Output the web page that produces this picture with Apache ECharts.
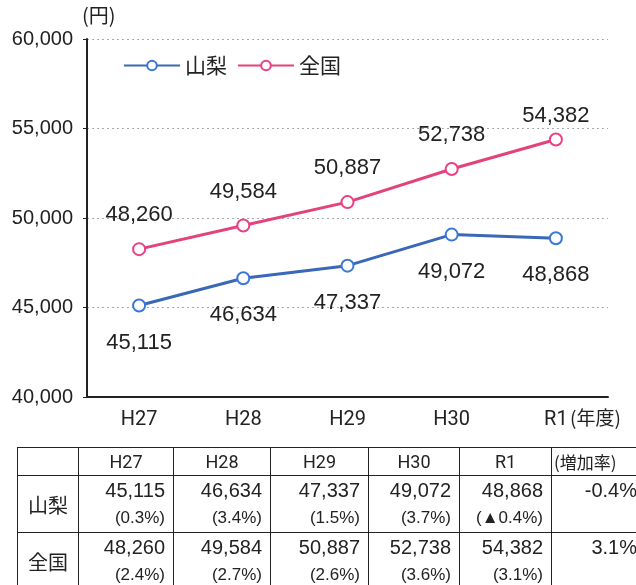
<!DOCTYPE html>
<html>
<head>
<meta charset="utf-8">
<script src="https://cdn.jsdelivr.net/npm/echarts@6/dist/echarts.min.js"></script>
<style>
  body { margin: 0; background: #fff; }
  #wrap { position: relative; width: 636px; height: 585px; overflow: hidden; }
  #chart { position: absolute; left: 0; top: 0; width: 636px; height: 585px; }
  #tbl { position: absolute; left: 17px; top: 447px; width: 628px; border-collapse: collapse; table-layout: fixed;
         font-family: "Liberation Sans", Arial, sans-serif; color: #222; }
  #tbl td { border: 1.5px solid #222; padding: 0; }
  #tbl .hd { height: 27px; text-align: center; font-family: Roboto, sans-serif; font-size: 18px; }
  #tbl .rl { text-align: center; font-family: "Noto Sans CJK JP", sans-serif; font-size: 20px; }
  #tbl .v { height: 56px; text-align: right; padding-right: 8px; vertical-align: top; }
  #tbl .v div.n { font-size: 20px; line-height: 28px; }
  #tbl .v div.p { font-size: 17px; line-height: 28px; }
</style>
</head>
<body>
<div id="wrap">
  <div id="chart"></div>
  <table id="tbl"></table>
</div>
<script>
// 1人当たり費用額（円）
const categories = ['H27', 'H28', 'H29', 'H30', 'R1'];
const yamanashi = [45115, 46634, 47337, 49072, 48868];
const zenkoku = [48260, 49584, 50887, 52738, 54382];
const yamanashiRate = ['(0.3%)', '(3.4%)', '(1.5%)', '(3.7%)', '(▲0.4%)'];
const zenkokuRate = ['(2.4%)', '(2.7%)', '(2.6%)', '(3.6%)', '(3.1%)'];
const growth = ['-0.4%', '3.1%'];
const yMin = 40000, yMax = 60000, yStep = 5000;

const fmt = v => v.toLocaleString('en-US');

const myChart = echarts.init(document.getElementById('chart'));
myChart.setOption({
    animation: false,
    grid: { left: 87, right: 28, top: 39, bottom: 188 },
    legend: {
        left: 118, top: 50,
        itemWidth: 56, itemHeight: 12, itemGap: 10,
        textStyle: { fontSize: 21, color: '#222', fontFamily: '"Noto Sans CJK JP", sans-serif' },
        data: ['山梨', '全国']
    },
    xAxis: {
        type: 'category',
        data: categories,
        boundaryGap: true,
        axisLine: { lineStyle: { color: '#222', width: 2 } },
        axisTick: { inside: true, length: 4, lineStyle: { color: '#222' } },
        axisLabel: { margin: 13, fontSize: 20, color: '#222', fontFamily: 'Roboto, sans-serif' }
    },
    yAxis: {
        type: 'value',
        min: yMin, max: yMax, interval: yStep,
        axisLine: { show: true, lineStyle: { color: '#222', width: 2 } },
        axisTick: { show: true, length: 4, lineStyle: { color: '#222' } },
        axisLabel: { margin: 14, fontSize: 20, color: '#222', formatter: fmt,
            fontFamily: '"Liberation Sans", Arial, sans-serif' },
        splitLine: { lineStyle: { color: '#aaa', type: [2, 3], width: 1 } }
    },
    graphic: [
        { type: 'text', left: 82, top: 5,
          style: { text: '(円)', fontSize: 20, fill: '#222', fontFamily: '"Noto Sans CJK JP", sans-serif' } },
        { type: 'text', left: 570, top: 408,
          style: { text: '(年度)', fontSize: 19, fill: '#222', fontFamily: '"Noto Sans CJK JP", sans-serif' } }
    ],
    series: [
        {
            name: '山梨', type: 'line',
            data: yamanashi,
            symbol: 'emptyCircle', symbolSize: 12,
            lineStyle: { color: '#3a68b8', width: 3 },
            itemStyle: { color: '#3a78d8', borderWidth: 2.5 },
            label: { show: true, position: 'bottom', distance: 19, fontSize: 22, color: '#222',
                fontFamily: '"Liberation Sans", Arial, sans-serif', formatter: p => fmt(p.value) }
        },
        {
            name: '全国', type: 'line',
            data: zenkoku.map((v, i) => i === zenkoku.length - 1 ? { value: v, label: { distance: 6 } } : v),
            symbol: 'emptyCircle', symbolSize: 12,
            lineStyle: { color: '#e2437c', width: 3 },
            itemStyle: { color: '#ea3f86', borderWidth: 2.5 },
            label: { show: true, position: 'top', distance: 16, fontSize: 22, color: '#222',
                fontFamily: '"Liberation Sans", Arial, sans-serif', formatter: p => fmt(p.value) }
        }
    ]
});

// 表
const widths = [60, 94, 96, 97, 90, 91, 100];
let html = '<tr><td class="hd" style="width:' + widths[0] + 'px"></td>';
categories.forEach((c, i) => { html += '<td class="hd" style="width:' + widths[i + 1] + 'px">' + c + '</td>'; });
html += '<td class="hd" style="width:' + widths[6] + 'px;text-align:left;padding-left:2px;font-family:\'Noto Sans CJK JP\',sans-serif;font-size:17px">(増加率)</td></tr>';
[['山梨', yamanashi, yamanashiRate, growth[0]], ['全国', zenkoku, zenkokuRate, growth[1]]].forEach(r => {
    html += '<tr><td class="rl">' + r[0] + '</td>';
    r[1].forEach((v, i) => {
        html += '<td class="v"><div class="n">' + fmt(v) + '</div><div class="p">' + r[2][i] + '</div></td>';
    });
    html += '<td class="v" style="padding-right:17px"><div class="n">' + r[3] + '</div></td></tr>';
});
document.getElementById('tbl').innerHTML = html;
</script>
</body>
</html>
